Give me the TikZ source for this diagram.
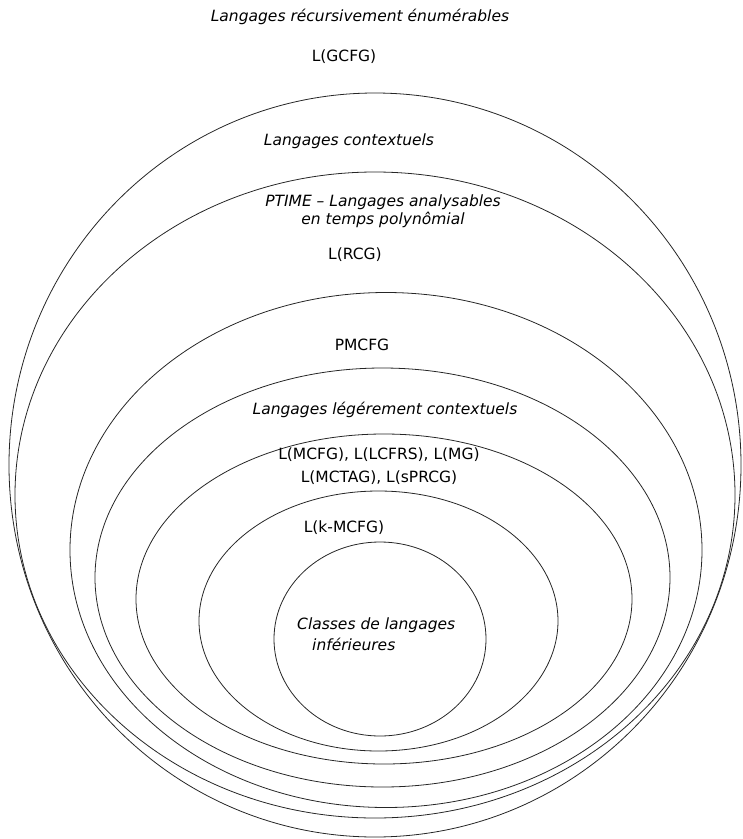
\documentclass[tikz,border=0pt]{standalone}
\usepackage{fontspec}
\setmainfont{DejaVu Sans}
\usetikzlibrary{shapes.geometric}

\begin{document}
\begin{tikzpicture}[x=1pt, y=-1pt,
      ring/.style={draw=black!85, ellipse, line width=0.8pt, inner sep=0pt},
      lbl/.style={font=\fontsize{15.5}{19}\selectfont, inner sep=0pt, align=center},
      ilbl/.style={lbl, font=\fontsize{15.5}{19}\selectfont\itshape}]
    \useasboundingbox (0,0) rectangle (743,839);
    % nested classes
    \node[ring, minimum width=732pt, minimum height=744pt] (ctx) at (375,465) {};
    \node[ring, minimum width=720pt, minimum height=646pt] (ptime) at (375,495) {};
    \node[ring, minimum width=632pt, minimum height=515pt] (pmcfg) at (386,550) {};
    \node[ring, minimum width=575pt, minimum height=419pt] (mcs) at (382.5,577.5) {};
    \node[ring, minimum width=496pt, minimum height=330pt] (mcfg) at (384,599) {};
    \node[ring, minimum width=359pt, minimum height=260pt] (kmcfg) at (378.5,621) {};
    \node[ring, minimum width=212pt, minimum height=194pt] (lower) at (380,639) {};
    % labels
    \node[ilbl] (t-re) at (360,17) {Langages récursivement énumérables};
    \node[lbl] (t-gcfg) at (344,57) {L(GCFG)};
    \node[ilbl] (t-ctx) at (349,141) {Langages contextuels};
    \node[ilbl, font=\fontsize{15.5}{18}\selectfont\itshape] (t-ptime) at (383,211.5)
      {PTIME – Langages analysables\\en temps polynômial};
    \node[lbl] (t-rcg) at (355,255) {L(RCG)};
    \node[lbl] (t-pmcfg) at (362,345) {PMCFG};
    \node[ilbl] (t-mcs) at (385,410) {Langages légérement contextuels};
    \node[lbl, font=\fontsize{15.5}{23}\selectfont] (t-mcfg) at (379,466.5)
      {L(MCFG), L(LCFRS), L(MG)\\L(MCTAG), L(sPRCG)};
    \node[lbl] (t-kmcfg) at (344,528) {L(k-MCFG)};
    \node[ilbl, align=left, anchor=west, font=\fontsize{15.5}{21}\selectfont\itshape] (t-lower) at (297,634.5)
      {Classes de langages\\\hspace*{15pt}inférieures};
  \end{tikzpicture}
\end{document}
